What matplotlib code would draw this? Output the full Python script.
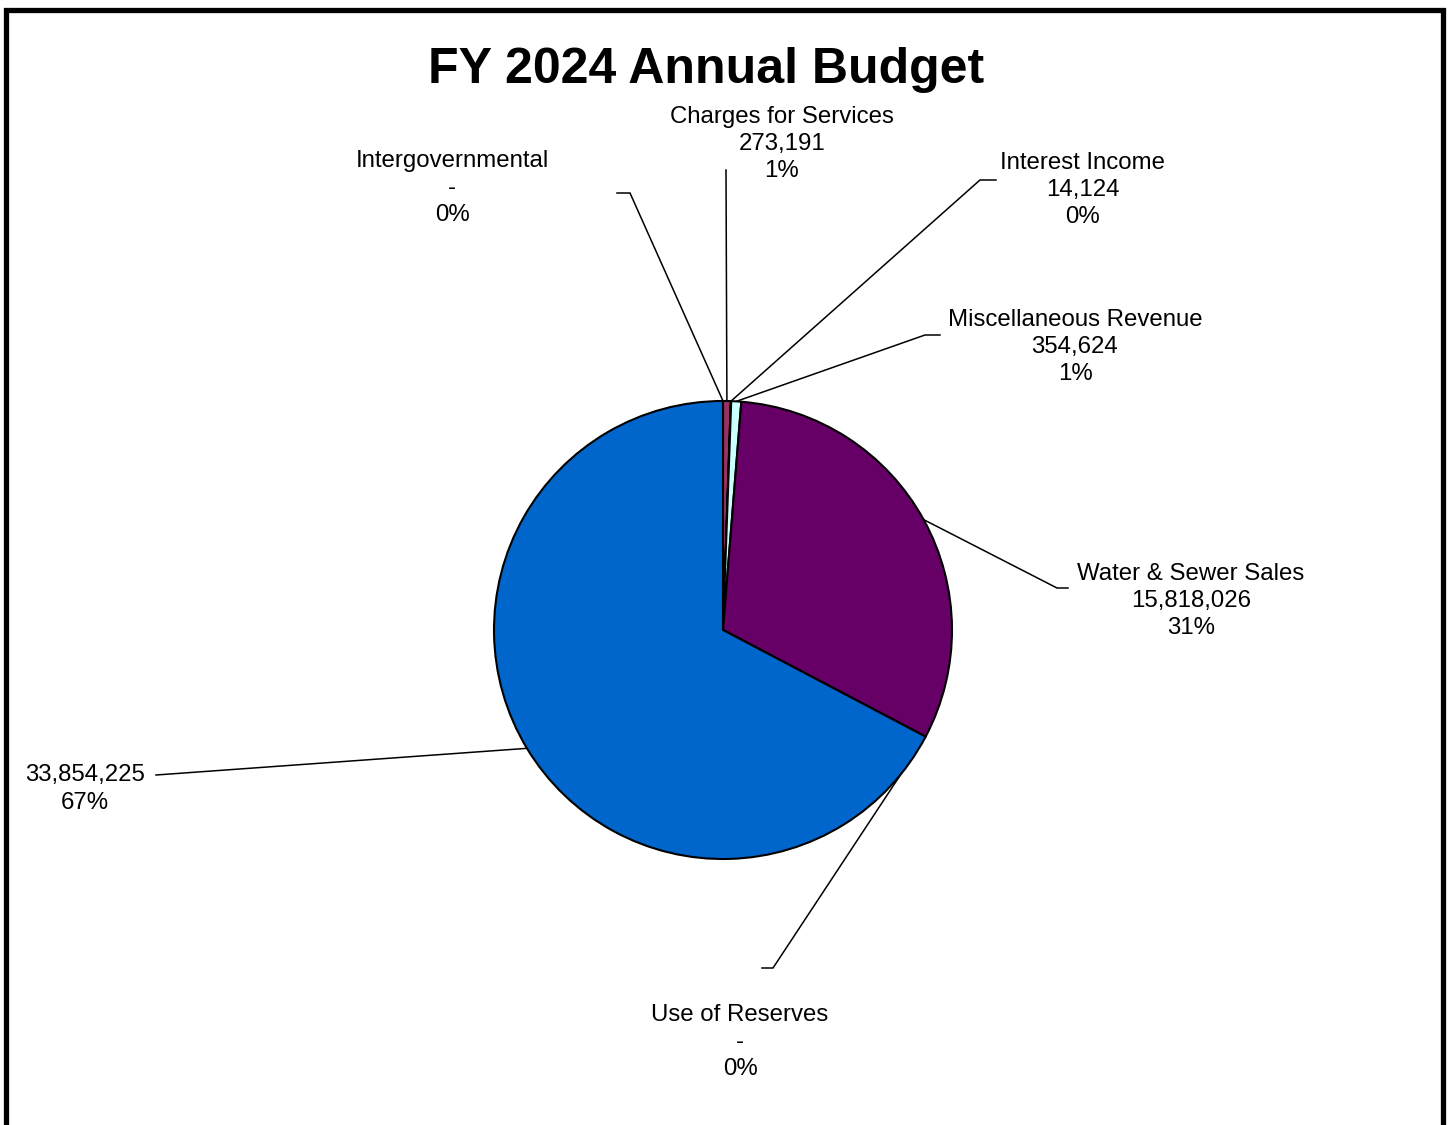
import numpy as np
import matplotlib
matplotlib.use("Agg")
import matplotlib.pyplot as plt

plt.rcParams['font.family'] = ['Liberation Sans', 'DejaVu Sans']

# ---- data ----
title = "FY 2024 Annual Budget"
categories = ["Intergovernmental", "Charges for Services", "Interest Income",
              "Miscellaneous Revenue", "Water & Sewer Sales", "Use of Reserves", ""]
values = [0, 273191, 14124, 354624, 15818026, 0, 33854225]
colors = ["#9999FF", "#993366", "#FFFFCC", "#CCFFFF", "#660066", "#FF8080", "#0066CC"]

# ---- layout (pixel coordinates, y measured from top) ----
W, H = 1448, 1125
cx, cy, R = 723, 630, 229
# label block centres and leader elbow/end points
label_pos = [(452, 188), (782, 144), (1083, 190), (1075, 347), (1191, 601), (740, 1042), (85, 789)]
elbows = [(630, 193), (726, 170), (980, 180), (925, 335), (1057, 588), (773, 968), (170, 774)]
ends = [(617, 193), (726, 170), (996, 180), (940, 335), (1068, 588), (762, 968), (156, 775)]

fig = plt.figure(figsize=(W / 100, H / 100), dpi=100)
ax = fig.add_axes([0, 0, 1, 1])

def Y(py):
    return H - py

ax.pie(values, colors=colors, startangle=90, counterclock=False,
       center=(cx, Y(cy)), radius=R,
       wedgeprops=dict(edgecolor='black', linewidth=1.5, joinstyle='round'))

total = float(sum(values))
cum = np.cumsum([0] + values[:-1]) / total
mids = cum + np.array(values) / total / 2.0
for i, name in enumerate(categories):
    ang = np.deg2rad(90 - 360 * mids[i])
    sx = cx + R * np.cos(ang)
    sy = Y(cy) + R * np.sin(ang)
    ex, ey = elbows[i]
    fx, fy = ends[i]
    ax.plot([sx, ex, fx], [sy, Y(ey), Y(fy)], color='black', lw=1.1, zorder=0.5,
            solid_joinstyle='miter')
    v = values[i]
    vs = "-" if v == 0 else f"{v:,.0f}"
    pct = f"{round(100 * v / total):.0f}%"
    txt = "\n".join(([name] if name else []) + [vs, pct])
    lx, ly = label_pos[i]
    ax.text(lx, Y(ly), txt, ha='center', va='center', fontsize=17.3,
            linespacing=1.31, color='black')

ax.text(706, Y(70), title, ha='center', va='center', fontsize=36,
        fontweight='bold', color='black')

# outer frame (open at bottom)
ax.plot([5.5, 5.5, 1442.5, 1442.5], [0, Y(9.5), Y(9.5), 0], color='black',
        lw=3.8, solid_joinstyle='miter', solid_capstyle='butt', zorder=5)

ax.set_xlim(0, W)
ax.set_ylim(0, H)
ax.set_aspect('auto')
ax.axis('off')

fig.savefig("out.png", dpi=100, facecolor='white')
